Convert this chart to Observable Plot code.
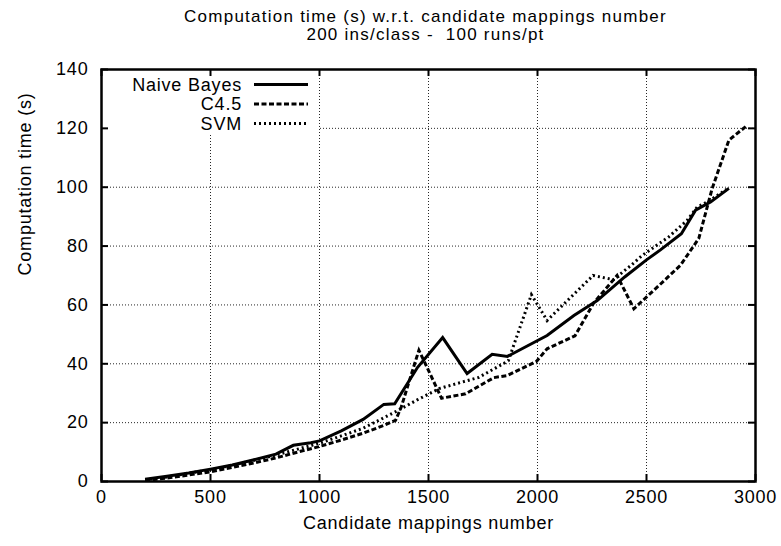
<!DOCTYPE html>
<html><head><meta charset="utf-8">
<script src="https://cdn.jsdelivr.net/npm/d3@7"></script>
<script src="https://cdn.jsdelivr.net/npm/@observablehq/plot@0.6"></script>
<style>
body{margin:0;background:#fff;}
svg text{white-space:pre;}
</style></head><body><div id="chart"></div>
<script>
const titleText = "Computation time (s) w.r.t. candidate mappings number\n200 ins/class -  100 runs/pt";
const xLabel = "Candidate mappings number";
const yLabel = "Computation time (s)";
const xTicks = [0, 500, 1000, 1500, 2000, 2500, 3000];
const yTicks = [0, 20, 40, 60, 80, 100, 120, 140];
const seriesNames = ["Naive Bayes", "C4.5", "SVM"];

const nbX = [200, 300, 400, 500, 600, 700, 800, 880, 960, 1000, 1100, 1200, 1295, 1345, 1450, 1565, 1677, 1792, 1862, 2044, 2167, 2274, 2400, 2500, 2564, 2660, 2725, 2794, 2878];
const nbY = [0.8, 1.8, 2.9, 4.2, 5.6, 7.4, 9.3, 12.3, 13.2, 13.8, 17.2, 21.1, 26.2, 26.4, 38.8, 48.9, 36.7, 43.2, 42.5, 49.6, 56.4, 61.5, 69.5, 75.3, 78.7, 84.2, 92.2, 95.0, 99.6];

const c45X = [200, 300, 400, 500, 600, 700, 800, 900, 1000, 1100, 1200, 1300, 1349, 1375, 1417, 1456, 1560, 1670, 1800, 1861, 1995, 2044, 2172, 2258, 2365, 2442, 2560, 2656, 2740, 2801, 2878, 2955];
const c45Y = [0.3, 1.2, 2.2, 3.3, 4.8, 6.3, 8.0, 10.0, 11.9, 14.1, 16.4, 19.2, 20.8, 25.3, 35.4, 44.6, 28.3, 29.8, 35.3, 36.0, 40.8, 45.1, 49.5, 60.7, 70.0, 58.7, 66.8, 73.5, 82.6, 99.5, 116.0, 120.6];

const svmX = [200, 300, 400, 500, 600, 700, 800, 900, 1000, 1100, 1200, 1341, 1450, 1550, 1731, 1866, 1972, 2044, 2106, 2255, 2348, 2430, 2480, 2600, 2686, 2732, 2786, 2868];
const svmY = [0.5, 1.5, 2.8, 4.0, 5.5, 7.2, 9.0, 11.0, 13.0, 15.5, 18.1, 23.4, 27.8, 31.6, 35.4, 41.0, 63.5, 54.7, 59.2, 70.0, 68.6, 73.5, 76.8, 83.0, 88.7, 93.2, 95.3, 99.3];

const dashes = [null, "5,2.5", "2,3"];
const series = [
  {name: seriesNames[0], xs: nbX, ys: nbY, dash: dashes[0]},
  {name: seriesNames[1], xs: c45X, ys: c45Y, dash: dashes[1]},
  {name: seriesNames[2], xs: svmX, ys: svmY, dash: dashes[2]}
];

const W = 781, H = 546, mL = 101, mR = 26, mT = 69, mB = 65;
const plotW = W - mL - mR, plotH = H - mT - mB;
const FONT = "'Liberation Sans', Arial, Helvetica, sans-serif";

function legendMark(index, scales, values, dims) {
  const g = d3.create("svg:g");
  const x0 = dims.marginLeft, y0 = dims.marginTop;
  g.append("rect").attr("x", x0 + 1.5).attr("y", y0 + 1.5).attr("width", 216).attr("height", 63).attr("fill", "#fff");
  series.forEach((s, i) => {
    const yy = y0 + 15.5 + i * 19.5;
    g.append("text").attr("x", x0 + 141).attr("y", yy).attr("dy", "0.36em")
      .attr("text-anchor", "end").attr("fill", "#000").text(s.name);
    const ln = g.append("line").attr("x1", x0 + 153).attr("x2", x0 + 207)
      .attr("y1", yy).attr("y2", yy).attr("stroke", "#000").attr("stroke-width", 3)
      .attr("stroke-linecap", "butt");
    if (s.dash) ln.attr("stroke-dasharray", s.dash);
  });
  return g.node();
}

const lineMarks = series.map(s =>
  Plot.line(s.xs.map((x, i) => ({x, y: s.ys[i]})), {
    x: "x", y: "y", stroke: "#000", strokeWidth: 3,
    strokeDasharray: s.dash || undefined, strokeLinecap: "butt", strokeLinejoin: "miter", strokeMiterlimit: 4
  })
);

const chart = Plot.plot({
  width: W, height: H,
  marginLeft: mL, marginRight: mR, marginTop: mT, marginBottom: mB,
  style: `font-family: ${FONT}; font-size: 18px; letter-spacing: 0.8px; background: #fff; color: #000; overflow: visible;`,
  x: {domain: [0, 3000]},
  y: {domain: [0, 140]},
  marks: [
    Plot.gridX(xTicks.slice(1, -1), {stroke: "#000", strokeOpacity: 0.85, strokeWidth: 1, strokeDasharray: "1,2"}),
    Plot.gridY(yTicks.slice(1, -1), {stroke: "#000", strokeOpacity: 0.85, strokeWidth: 1, strokeDasharray: "1,2"}),
    legendMark,
    ...lineMarks,
    Plot.frame({stroke: "#000", strokeWidth: 2.5}),
    Plot.tickX(xTicks, {x: d => d, insetTop: plotH - 7, stroke: "#000", strokeWidth: 2}),
    Plot.tickX(xTicks, {x: d => d, insetBottom: plotH - 7, stroke: "#000", strokeWidth: 2}),
    Plot.tickY(yTicks, {y: d => d, insetRight: plotW - 7, stroke: "#000", strokeWidth: 2}),
    Plot.tickY(yTicks, {y: d => d, insetLeft: plotW - 7, stroke: "#000", strokeWidth: 2}),
    Plot.axisX(xTicks, {tickSize: 0, tickPadding: 9, label: null, tickFormat: d => String(d)}),
    Plot.axisY(yTicks, {tickSize: 0, tickPadding: 13, label: null, tickFormat: d => String(d)}),
    Plot.text([xLabel], {text: d => d, frameAnchor: "bottom", dy: 42, lineAnchor: "middle", fontSize: 18, fill: "#000"}),
    Plot.text([yLabel], {text: d => d, frameAnchor: "left", dx: -76, rotate: -90, fontSize: 18, fill: "#000"}),
    Plot.text([titleText], {text: d => d, frameAnchor: "top", dx: -3, dy: -44.5, lineAnchor: "middle", lineHeight: 1.1, fontSize: 17, fill: "#000"})
  ]
});
chart.querySelectorAll("g[aria-label=text]").forEach(g => {
  if (g.textContent.startsWith("Computation time (s) w")) g.setAttribute("letter-spacing", "1.25px");
});
document.getElementById("chart").appendChild(chart);
</script>
</body></html>
